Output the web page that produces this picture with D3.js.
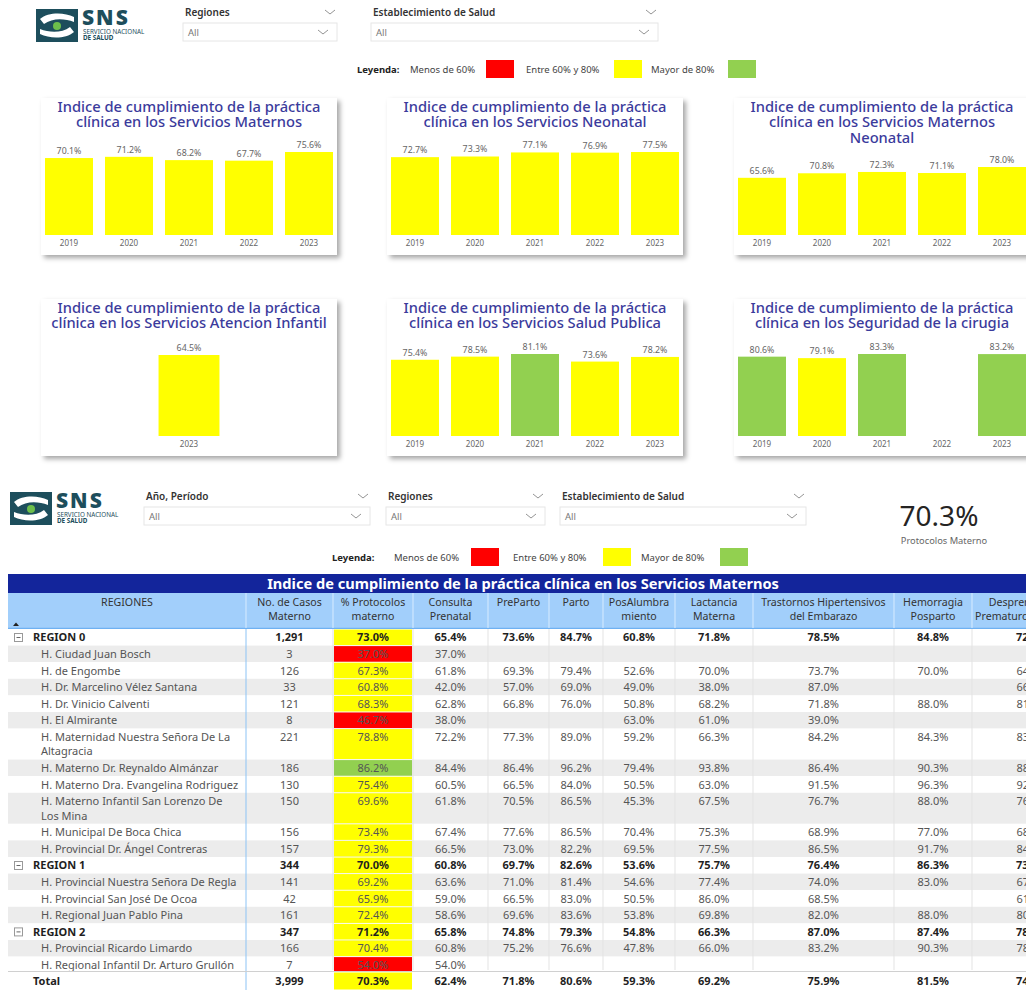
<!DOCTYPE html>
<html>
<head>
<meta charset="utf-8">
<script src="https://cdn.jsdelivr.net/npm/d3@7"></script>
<style>
  body { margin: 0; background: #fff; overflow: hidden; }
  text { font-family: "Noto Sans", "Segoe UI", sans-serif; }
</style>
</head>
<body>
<svg id="dash" width="1026" height="990"></svg>
<script>
// ---- datos de los graficos de barras ----
var years = ["2019", "2020", "2021", "2022", "2023"];
var serviciosMaternos = [70.1, 71.2, 68.2, 67.7, 75.6];
var serviciosNeonatal = [72.7, 73.3, 77.1, 76.9, 77.5];
var maternosNeonatal = [65.6, 70.8, 72.3, 71.1, 78.0];
var infantilYears = ["2023"];
var atencionInfantil = [64.5];
var saludPublica = [75.4, 78.5, 81.1, 73.6, 78.2];
var seguridadCirugia = [80.6, 79.1, 83.3, null, 83.2];

// ---- datos de la tabla ----
var rowNames = [
    "REGION 0", "H. Ciudad Juan Bosch", "H. de Engombe", "H. Dr. Marcelino Vélez Santana",
    "H. Dr. Vinicio Calventi", "H. El Almirante", "H. Maternidad Nuestra Señora De La\nAltagracia",
    "H. Materno Dr. Reynaldo Almánzar", "H. Materno Dra. Evangelina Rodriguez",
    "H. Materno Infantil San Lorenzo De\nLos Mina", "H. Municipal De Boca Chica",
    "H. Provincial Dr. Ángel Contreras", "REGION 1", "H. Provincial Nuestra Señora De Regla",
    "H. Provincial San José De Ocoa", "H. Regional Juan Pablo Pina", "REGION 2",
    "H. Provincial Ricardo Limardo", "H. Regional Infantil Dr. Arturo Grullón", "Total"
];
var rowLevels = [0, 1, 1, 1, 1, 1, 1, 1, 1, 1, 1, 1, 0, 1, 1, 1, 0, 1, 1, 2];
var casosMaterno = [1291, 3, 126, 33, 121, 8, 221, 186, 130, 150, 156, 157, 344, 141, 42, 161, 347, 166, 7, 3999];
var protocolosMaterno = [73.0, 37.0, 67.3, 60.8, 68.3, 46.7, 78.8, 86.2, 75.4, 69.6, 73.4, 79.3, 70.0, 69.2, 65.9, 72.4, 71.2, 70.4, 54.0, 70.3];
var consultaPrenatal = [65.4, 37.0, 61.8, 42.0, 62.8, 38.0, 72.2, 84.4, 60.5, 61.8, 67.4, 66.5, 60.8, 63.6, 59.0, 58.6, 65.8, 60.8, 54.0, 62.4];
var preParto = [73.6, null, 69.3, 57.0, 66.8, null, 77.3, 86.4, 66.5, 70.5, 77.6, 73.0, 69.7, 71.0, 66.5, 69.6, 74.8, 75.2, null, 71.8];
var parto = [84.7, null, 79.4, 69.0, 76.0, null, 89.0, 96.2, 84.0, 86.5, 86.5, 82.2, 82.6, 81.4, 83.0, 83.6, 79.3, 76.6, null, 80.6];
var posAlumbramiento = [60.8, null, 52.6, 49.0, 50.8, 63.0, 59.2, 79.4, 50.5, 45.3, 70.4, 69.5, 53.6, 54.6, 50.5, 53.8, 54.8, 47.8, null, 59.3];
var lactanciaMaterna = [71.8, null, 70.0, 38.0, 68.2, 61.0, 66.3, 93.8, 63.0, 67.5, 75.3, 77.5, 75.7, 77.4, 86.0, 69.8, 66.3, 66.0, null, 69.2];
var trastornosHipertensivos = [78.5, null, 73.7, 87.0, 71.8, 39.0, 84.2, 86.4, 91.5, 76.7, 68.9, 86.5, 76.4, 74.0, 68.5, 82.0, 87.0, 83.2, null, 75.9];
var hemorragiaPosparto = [84.8, null, 70.0, null, 88.0, null, 84.3, 90.3, 96.3, 88.0, 77.0, 91.7, 86.3, 83.0, null, 88.0, 87.4, 90.3, null, 81.5];
var desprendimiento = [72.4, null, 64.0, 66.7, 81.3, null, 83.5, 88.9, 92.1, 76.2, 68.0, 84.6, 73.3, 67.5, 61.0, 80.0, 78.7, 78.7, null, 74.0];

var tableHeaders = [
    ["REGIONES"], ["No. de Casos", "Materno"], ["% Protocolos", "materno"], ["Consulta", "Prenatal"],
    ["PreParto"], ["Parto"], ["PosAlumbra", "miento"], ["Lactancia", "Materna"],
    ["Trastornos Hipertensivos", "del Embarazo"], ["Hemorragia", "Posparto"],
    ["Desprendimiento", "Prematuro de Placenta"]
];

var legendLabels = ["Menos de 60%", "Entre 60% y 80%", "Mayor de 80%"];

var svg = d3.select("#dash");

var titleColor = "#3b3b9c";
var pct = function(v) { return v == null ? "" : d3.format(".1f")(v) + "%"; };

// semaforo de colores
var semaforo = function(v) {
    if (v < 60) return "#ff0000";
    if (v <= 80) return "#ffff00";
    return "#92d050";
};

// shadow filter for the cards
var filter = svg.append("defs").append("filter")
    .attr("id", "shadow")
    .attr("x", "-10%").attr("y", "-10%")
    .attr("width", "130%").attr("height", "130%");
filter.append("feDropShadow")
    .attr("dx", 3).attr("dy", 3)
    .attr("stdDeviation", 2.5)
    .attr("flood-color", "#000")
    .attr("flood-opacity", 0.35);

// ---- logo SNS ----
function drawLogo(x, y) {
    var g = svg.append("g").attr("transform", "translate(" + x + "," + y + ")");
    g.append("rect").attr("width", 42).attr("height", 33).attr("fill", "#1d4e5c");
    g.append("path")
        .attr("d", "M4,10 C12,3 28,3 38,8 L38,13 C28,9 16,9 8,15 Z")
        .attr("fill", "#fff");
    g.append("path")
        .attr("d", "M38,23 C30,30 14,30 4,25 L4,20 C14,24 26,24 34,18 Z")
        .attr("fill", "#fff");
    g.append("circle").attr("cx", 21).attr("cy", 17).attr("r", 4).attr("fill", "#6cbf4b");
    g.append("text").attr("x", 46).attr("y", 16)
        .style("font-size", "21px").style("font-weight", "900")
        .style("letter-spacing", "2px")
        .attr("fill", "#1d4e5c").text("SNS");
    g.append("text").attr("x", 47).attr("y", 25)
        .style("font-size", "6.3px").attr("fill", "#1d4e5c")
        .text("SERVICIO NACIONAL");
    g.append("text").attr("x", 47).attr("y", 31)
        .style("font-size", "6.3px").style("font-weight", "bold").attr("fill", "#1d4e5c")
        .text("DE SALUD");
}

// ---- dropdown (slicer) ----
function chevron(g, x, y) {
    g.append("path")
        .attr("d", "M" + (x - 5) + "," + (y - 2) + " L" + x + "," + (y + 2) + " L" + (x + 5) + "," + (y - 2))
        .attr("fill", "none").attr("stroke", "#888").attr("stroke-width", 0.9);
}

function drawSlicer(label, x0, x1, y) {
    var g = svg.append("g");
    g.append("text").attr("x", x0 + 2).attr("y", y + 4)
        .style("font-size", "10px").style("font-weight", "600").attr("fill", "#333")
        .text(label);
    chevron(g, x1 - 7, y);
    g.append("rect").attr("x", x0).attr("y", y + 11).attr("width", x1 - x0).attr("height", 18)
        .attr("fill", "#fff").attr("stroke", "#e6e6e6");
    g.append("text").attr("x", x0 + 5).attr("y", y + 24)
        .style("font-size", "9.5px").attr("fill", "#777").text("All");
    chevron(g, x1 - 14, y + 20);
}

// ---- leyenda ----
function drawLegend(xs, y) {
    var g = svg.append("g");
    g.append("text").attr("x", xs[0]).attr("y", y + 3.5)
        .style("font-size", "9.5px").style("font-weight", "bold").attr("fill", "#222")
        .text("Leyenda:");
    var colors = ["#ff0000", "#ffff00", "#92d050"];
    legendLabels.forEach(function(lbl, i) {
        g.append("text").attr("x", xs[1 + i * 2]).attr("y", y + 3.5)
            .style("font-size", "9.5px").attr("fill", "#444").text(lbl);
        g.append("rect").attr("x", xs[2 + i * 2]).attr("y", y - 9)
            .attr("width", 28).attr("height", 18).attr("fill", colors[i]);
    });
}

// ---- tarjeta con grafico de barras ----
function drawCard(cfg) {
    var g = svg.append("g").attr("transform", "translate(" + cfg.x + "," + cfg.y + ")");
    g.append("rect").attr("width", 296).attr("height", 157)
        .attr("fill", "#fff").attr("filter", "url(#shadow)");

    g.selectAll("text.title")
        .data(cfg.title)
        .enter()
        .append("text")
        .attr("class", "title")
        .attr("x", 148)
        .attr("y", function(d, i) { return 14 + i * 15.3; })
        .attr("text-anchor", "middle")
        .style("font-size", "14.7px")
        .style("font-weight", "500")
        .attr("fill", titleColor)
        .text(function(d) { return d; });

    var xScale = d3.scaleBand()
        .domain(cfg.cats)
        .range([-2, 298])
        .paddingInner(0.2)
        .paddingOuter(cfg.outer || 0.1);

    var yScale = d3.scaleLinear()
        .domain([0, d3.max(cfg.values)])
        .range([137, 137 - cfg.maxH]);

    var data = cfg.cats.map(function(c, i) {
        return { cat: c, v: cfg.values[i] };
    }).filter(function(d) { return d.v != null; });

    g.selectAll("rect.bar")
        .data(data)
        .enter()
        .append("rect")
        .attr("class", "bar")
        .attr("x", function(d) { return xScale(d.cat); })
        .attr("width", xScale.bandwidth())
        .attr("y", function(d) { return yScale(d.v); })
        .attr("height", function(d) { return yScale(0) - yScale(d.v); })
        .attr("fill", function(d) { return semaforo(d.v); });

    g.selectAll("text.val")
        .data(data)
        .enter()
        .append("text")
        .attr("class", "val")
        .attr("x", function(d) { return xScale(d.cat) + xScale.bandwidth() / 2; })
        .attr("y", function(d) { return yScale(d.v) - 4; })
        .attr("text-anchor", "middle")
        .style("font-size", "8.8px")
        .attr("fill", "#666")
        .text(function(d) { return pct(d.v); });

    var axis = g.append("g")
        .attr("transform", "translate(0,137)")
        .call(d3.axisBottom(xScale).tickSize(0).tickPadding(5));
    axis.select(".domain").remove();
    axis.selectAll("text").style("font-size", "8px").attr("fill", "#666")
        .style("font-family", "\"Noto Sans\", sans-serif");
}

// ================= parte superior =================
drawLogo(36, 9);
drawSlicer("Regiones", 183, 337, 12);
drawSlicer("Establecimiento de Salud", 371, 658, 12);
drawLegend([357, 410, 486, 526, 614, 651, 728], 69);

drawCard({ x: 41, y: 98, title: ["Indice de cumplimiento de la práctica", "clínica en los Servicios Maternos"],
    cats: years, values: serviciosMaternos, maxH: 83 });
drawCard({ x: 387, y: 98, title: ["Indice de cumplimiento de la práctica", "clínica en los Servicios Neonatal"],
    cats: years, values: serviciosNeonatal, maxH: 83 });
drawCard({ x: 734, y: 98, title: ["Indice de cumplimiento de la práctica", "clínica en los Servicios Maternos", "Neonatal"],
    cats: years, values: maternosNeonatal, maxH: 68 });

drawCard({ x: 41, y: 299, title: ["Indice de cumplimiento de la práctica", "clínica en los Servicios Atencion Infantil"],
    cats: infantilYears, values: atencionInfantil, maxH: 81, outer: 1.57 });
drawCard({ x: 387, y: 299, title: ["Indice de cumplimiento de la práctica", "clínica en los Servicios Salud Publica"],
    cats: years, values: saludPublica, maxH: 82 });
drawCard({ x: 734, y: 299, title: ["Indice de cumplimiento de la práctica", "clínica en los Seguridad de la cirugia"],
    cats: years, values: seguridadCirugia, maxH: 82 });

// ================= parte inferior =================
drawLogo(10, 492);
drawSlicer("Año, Período", 144, 370, 496);
drawSlicer("Regiones", 386, 545, 496);
drawSlicer("Establecimiento de Salud", 560, 806, 496);
drawLegend([332, 394, 471, 513, 603, 641, 720], 557);

// KPI card
svg.append("text").attr("x", 939).attr("y", 526)
    .attr("text-anchor", "middle")
    .style("font-size", "28px").attr("fill", "#252423")
    .text(pct(protocolosMaterno[protocolosMaterno.length - 1]));
svg.append("text").attr("x", 944).attr("y", 544)
    .attr("text-anchor", "middle")
    .style("font-size", "9.3px").attr("fill", "#666")
    .text("Protocolos Materno");

// ---- tabla ----
var colEdges = [8, 246, 333, 413, 488, 549, 603, 675, 753, 894, 972, 1092];
var colCenter = function(i) { return (colEdges[i] + colEdges[i + 1]) / 2; };
var tableTop = 574;
var headTop = 593;
var bodyTop = 629;

var tbl = svg.append("g");

tbl.append("rect").attr("x", 8).attr("y", tableTop).attr("width", 1084).attr("height", headTop - tableTop)
    .attr("fill", "#13259b");
tbl.append("text").attr("x", 523).attr("y", tableTop + 14.5)
    .attr("text-anchor", "middle")
    .style("font-size", "14.6px").style("font-weight", "bold").attr("fill", "#fff")
    .text("Indice de cumplimiento de la práctica clínica en los Servicios Maternos");

tbl.append("rect").attr("x", 8).attr("y", headTop).attr("width", 1084).attr("height", bodyTop - headTop)
    .attr("fill", "#a2cffb");
tbl.append("line").attr("x1", 8).attr("x2", 1092).attr("y1", bodyTop - 0.5).attr("y2", bodyTop - 0.5)
    .attr("stroke", "#6fb1f2").attr("stroke-width", 1.5);

tableHeaders.forEach(function(lines, i) {
    if (i > 0) {
        tbl.append("line").attr("x1", colEdges[i]).attr("x2", colEdges[i])
            .attr("y1", headTop).attr("y2", bodyTop - 1)
            .attr("stroke", "#d8ecff").attr("stroke-width", 1);
    }
    lines.forEach(function(t, j) {
        tbl.append("text").attr("x", colCenter(i)).attr("y", headTop + 13 + j * 14)
            .attr("text-anchor", "middle")
            .style("font-size", "10.6px").attr("fill", "#333")
            .text(t);
    });
});
// sort arrow
tbl.append("path").attr("d", "M13,626 L16,622.5 L19,626 Z").attr("fill", "#222");

// body rows
var valueCols = [consultaPrenatal, preParto, parto, posAlumbramiento, lactanciaMaterna,
    trastornosHipertensivos, hemorragiaPosparto, desprendimiento];

var rowY = bodyTop;
var rowsLayout = rowNames.map(function(name, i) {
    var lines = name.split("\n");
    var h = lines.length > 1 ? 31 : 16.6;
    if (rowLevels[i] === 2) { rowY = 972; h = 18; }
    var r = { i: i, lines: lines, y: rowY, h: h };
    rowY += h;
    return r;
});

rowsLayout.forEach(function(r) {
    var i = r.i;
    var level = rowLevels[i];
    var bold = level !== 1;
    var fill = (level !== 2 && i % 2 === 1) ? "#ececec" : "#fff";
    tbl.append("rect").attr("x", 8).attr("y", r.y).attr("width", 1084).attr("height", r.h).attr("fill", fill);

    // protocol cell colour
    tbl.append("rect").attr("x", colEdges[2] + 1).attr("y", r.y + 0.5)
        .attr("width", colEdges[3] - colEdges[2] - 2).attr("height", r.h - 1)
        .attr("fill", semaforo(protocolosMaterno[i]));

    var base = r.y + 12.3;
    if (level === 2) base = r.y + 13;
    var txtFill = bold ? "#1f1f1f" : "#555";
    var weight = bold ? "bold" : "normal";

    if (level === 0) {
        tbl.append("rect").attr("x", 14.5).attr("y", r.y + 4.5).attr("width", 8).attr("height", 8)
            .attr("fill", "#fff").attr("stroke", "#999");
        tbl.append("line").attr("x1", 16.5).attr("x2", 20.5).attr("y1", r.y + 8.5).attr("y2", r.y + 8.5)
            .attr("stroke", "#666");
    }
    r.lines.forEach(function(t, j) {
        tbl.append("text").attr("x", level === 1 ? 41 : 33).attr("y", base + j * 14.5)
            .style("font-size", "11px").style("font-weight", weight).attr("fill", txtFill)
            .text(t);
    });

    var cells = [d3.format(",")(casosMaterno[i]), pct(protocolosMaterno[i])]
        .concat(valueCols.map(function(col) { return pct(col[i]); }));
    cells.forEach(function(t, k) {
        tbl.append("text").attr("x", colCenter(k + 1)).attr("y", base)
            .attr("text-anchor", "middle")
            .style("font-size", "11px").style("font-weight", weight)
            .attr("fill", txtFill)
            .text(t);
    });
});

// column separators in the body
colEdges.slice(2, colEdges.length - 1).forEach(function(x) {
    tbl.append("line").attr("x1", x).attr("x2", x).attr("y1", bodyTop).attr("y2", 970)
        .attr("stroke", "#e3e3e3");
});
tbl.append("line").attr("x1", 246).attr("x2", 246).attr("y1", bodyTop).attr("y2", 990)
    .attr("stroke", "#8cc3f5");
tbl.append("line").attr("x1", 8).attr("x2", 1092).attr("y1", 971.5).attr("y2", 971.5)
    .attr("stroke", "#d0d0d0");
</script>
</body>
</html>
